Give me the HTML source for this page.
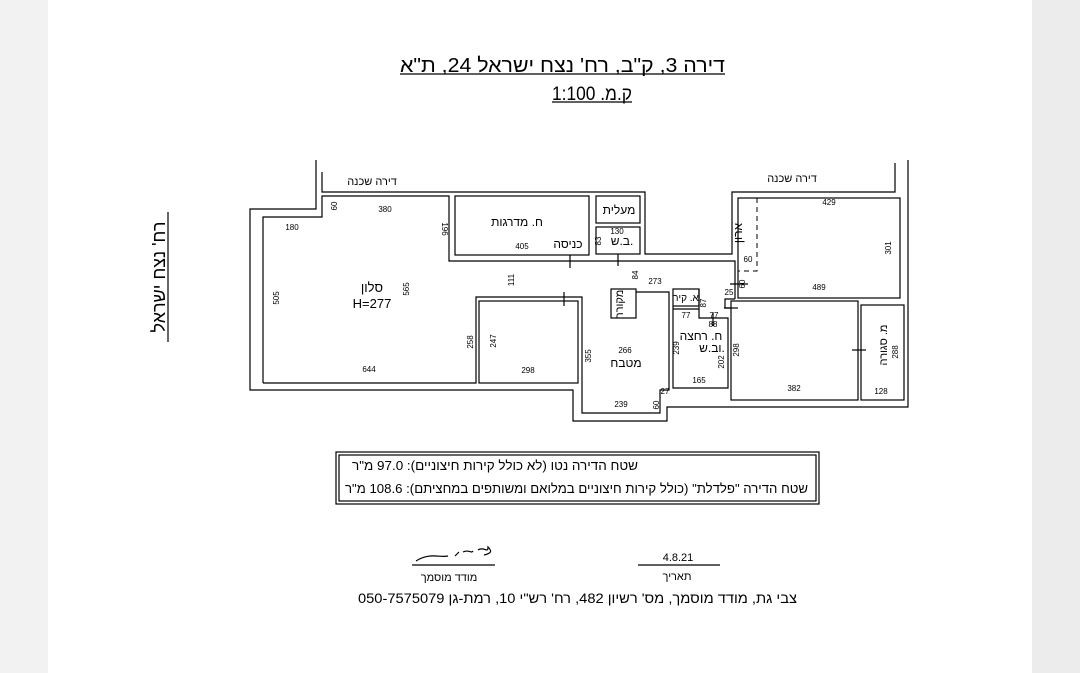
<!DOCTYPE html>
<html><head><meta charset="utf-8"><style>
html,body{margin:0;padding:0;width:1080px;height:673px;overflow:hidden;background:#fff}
svg{display:block}
text{font-family:"Liberation Sans","DejaVu Sans",sans-serif;fill:#000}
.n{font-size:8px;text-anchor:middle}
.h{font-size:12px;text-anchor:middle}
</style></head><body>
<svg width="1080" height="673" viewBox="0 0 1080 673" xmlns="http://www.w3.org/2000/svg">
<rect x="0" y="0" width="48" height="673" fill="#f2f2f2"/>
<rect x="1032" y="0" width="48" height="673" fill="#ececec"/>
<g fill="none" stroke="#000" stroke-width="1.2">
<polyline points="316,160 316,209 250,209 250,390 573,390 573,421 667,421 667,407 908,407 908,160"/>
<polyline points="322,172 322,192 645,192 645,254 732,254 732,192 895,192 895,163"/>
<polyline points="263,383 263,217 322,217 322,196 449,196 449,261 735,261 735,299"/>
<polyline points="263,383 476,383 476,297 582,297 582,413 660,413 660,390 669,390 669,292 636,292"/>
<rect x="479" y="301" width="99" height="82"/>
<rect x="455" y="196" width="134" height="59"/>
<rect x="596" y="196" width="44" height="27"/>
<rect x="596" y="227" width="44" height="27"/>
<rect x="738" y="198" width="162" height="100"/>
<rect x="731" y="301" width="127" height="99"/>
<rect x="861" y="305" width="43" height="95"/>
<rect x="611" y="289" width="25" height="29"/>
<rect x="673" y="289" width="26" height="17"/>
<polyline points="673,306 673,388 728,388 728,318 699,318 699,289 699,309"/>
<polyline points="673,309 699,309"/>
<polyline points="735,299 725,299 725,308 731,308"/>
<line x1="570" y1="255" x2="570" y2="268"/>
<line x1="618" y1="254" x2="618" y2="266"/>
<line x1="564" y1="292" x2="564" y2="306"/>
<line x1="730" y1="284" x2="748" y2="284"/>
<line x1="724" y1="308" x2="738" y2="308"/>
<line x1="713" y1="313" x2="713" y2="326"/>
<line x1="852" y1="350" x2="866" y2="350"/>
<line x1="400" y1="74" x2="725" y2="74"/>
<line x1="552" y1="102" x2="632" y2="102"/>
<line x1="168" y1="212" x2="168" y2="342"/>
<rect x="336" y="452" width="483" height="52"/>
<rect x="339" y="455" width="477" height="46"/>
<line x1="412" y1="565" x2="495" y2="565"/>
<line x1="638" y1="565" x2="720" y2="565"/>
<path d="M416 561 C430 552,440 558,448 556 M455 556 l4 -4 M463 552 c6 -3,8 2,10 -1 M478 550 c6 -4,10 4,10 -3 c4 4,4 6 -4 8"/>
</g>
<g fill="none" stroke="#000" stroke-width="1" stroke-dasharray="5,4">
<polyline points="757,198 757,271 738,271"/>
</g>
<text x="400" y="72" style="font-size:20px" textLength="325" lengthAdjust="spacingAndGlyphs">דירה 3, ק"ב, רח' נצח ישראל 24, ת"א</text>
<text x="552" y="100" style="font-size:19px" textLength="80" lengthAdjust="spacingAndGlyphs">ק.מ. 1:100</text>
<text transform="translate(165,277) rotate(-90)" style="font-size:18px" text-anchor="middle">רח' נצח ישראל</text>
<text class="h" x="372" y="185" style="font-size:11px">דירה שכנה</text>
<text class="h" x="792" y="182" style="font-size:11px">דירה שכנה</text>
<text class="h" x="517" y="226">ח. מדרגות</text>
<text class="h" x="568" y="248">כניסה</text>
<text class="h" x="619" y="214">מעלית</text>
<text class="h" x="622" y="245">ב.ש.</text>
<text class="h" x="372" y="292" style="font-size:13px">סלון</text>
<text class="h" x="372" y="308" style="font-size:13px">H=277</text>
<text class="h" x="626" y="367">מטבח</text>
<text class="h" x="701" y="340">ח. רחצה</text>
<text class="h" x="712" y="352">וב.ש.</text>
<text class="h" x="686" y="301" style="font-size:10px">א. קיר</text>
<text class="h" transform="translate(623,304) rotate(-90)" style="font-size:11px">מקורר</text>
<text class="h" transform="translate(742,233) rotate(-90)">ארון</text>
<text class="h" transform="translate(887,345) rotate(-90)" style="font-size:11px">מ. סגורה</text>
<text class="n" x="385" y="212">380</text>
<text class="n" x="292" y="230">180</text>
<text class="n" x="522" y="249">405</text>
<text class="n" x="617" y="234">130</text>
<text class="n" x="369" y="372">644</text>
<text class="n" x="528" y="373">298</text>
<text class="n" x="625" y="353">266</text>
<text class="n" x="621" y="407">239</text>
<text class="n" x="655" y="284">273</text>
<text class="n" x="829" y="205">429</text>
<text class="n" x="748" y="262">60</text>
<text class="n" x="819" y="290">489</text>
<text class="n" x="794" y="391">382</text>
<text class="n" x="881" y="394">128</text>
<text class="n" x="686" y="318">77</text>
<text class="n" x="714" y="318">77</text>
<text class="n" x="713" y="327">88</text>
<text class="n" x="699" y="383">165</text>
<text class="n" x="729" y="295">25</text>
<text class="n" x="665" y="394">27</text>
<text class="n" transform="translate(337,206) rotate(-90)">60</text>
<text class="n" transform="translate(442,229) rotate(90)">196</text>
<text class="n" transform="translate(409,289) rotate(-90)">565</text>
<text class="n" transform="translate(279,298) rotate(-90)">505</text>
<text class="n" transform="translate(514,280) rotate(-90)">111</text>
<text class="n" transform="translate(473,342) rotate(-90)">258</text>
<text class="n" transform="translate(496,341) rotate(-90)">247</text>
<text class="n" transform="translate(591,356) rotate(-90)">355</text>
<text class="n" transform="translate(638,275) rotate(-90)">84</text>
<text class="n" transform="translate(601,241) rotate(-90)">83</text>
<text class="n" transform="translate(706,303) rotate(-90)">87</text>
<text class="n" transform="translate(679,348) rotate(-90)">239</text>
<text class="n" transform="translate(724,362) rotate(-90)">202</text>
<text class="n" transform="translate(739,350) rotate(-90)">298</text>
<text class="n" transform="translate(659,405) rotate(-90)">60</text>
<text class="n" transform="translate(745,284) rotate(-90)">60</text>
<text class="n" transform="translate(891,248) rotate(-90)">301</text>
<text class="n" transform="translate(898,352) rotate(-90)">288</text>
<text x="352" y="470" style="font-size:13px" textLength="286" lengthAdjust="spacingAndGlyphs">שטח הדירה נטו (לא כולל קירות חיצוניים): 97.0 מ"ר</text>
<text x="345" y="493" style="font-size:13px" textLength="463" lengthAdjust="spacingAndGlyphs">שטח הדירה "פלדלת" (כולל קירות חיצוניים במלואם ומשותפים במחציתם): 108.6 מ"ר</text>
<text x="678" y="561" style="font-size:11px" text-anchor="middle">4.8.21</text>
<text x="677" y="580" style="font-size:11px" text-anchor="middle">תאריך</text>
<text x="449" y="581" style="font-size:11px" text-anchor="middle">מודד מוסמך</text>
<text x="358" y="603" style="font-size:14px" textLength="439" lengthAdjust="spacingAndGlyphs">צבי גת, מודד מוסמך, מס' רשיון 482, רח' רש"י 10, רמת-גן 050-7575079</text>
</svg>
</body></html>
